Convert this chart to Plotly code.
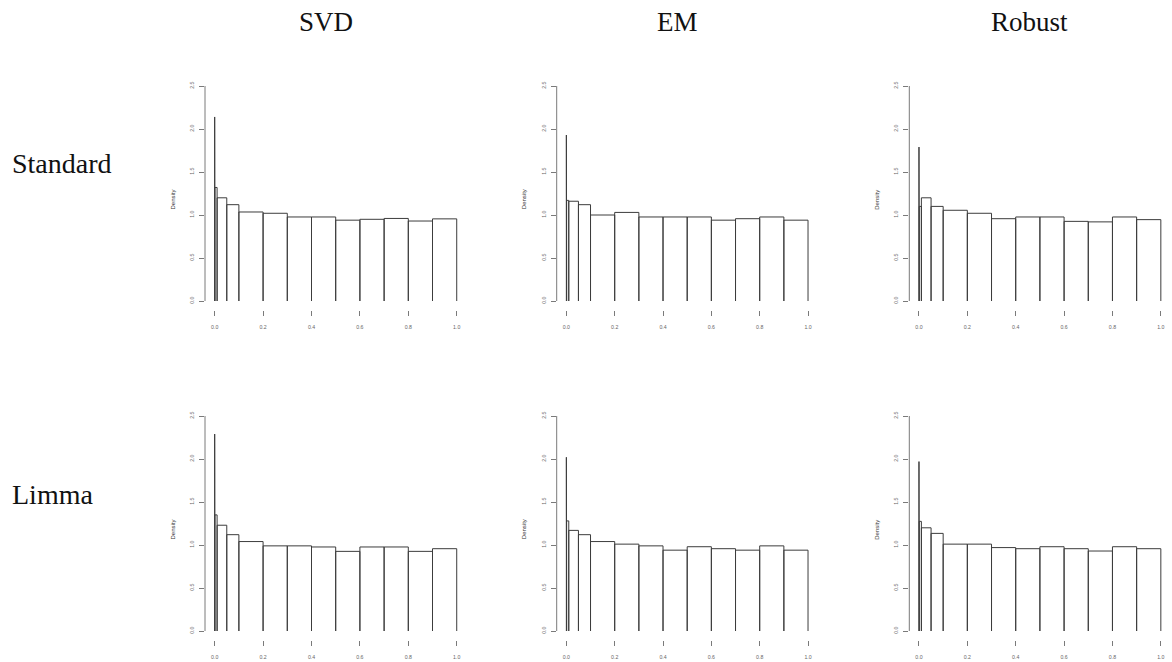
import plotly.graph_objects as go

# ---------------- data ----------------
breaks = [0, 0.001, 0.01, 0.05, 0.1, 0.2, 0.3, 0.4, 0.5, 0.6, 0.7, 0.8, 0.9, 1.0]
methods = ["SVD", "EM", "Robust"]
tests = ["Standard", "Limma"]

x_tick_vals = [0, 0.2, 0.4, 0.6, 0.8, 1.0]
x_tick_text = ["0.0", "0.2", "0.4", "0.6", "0.8", "1.0"]
y_tick_vals = [0, 0.5, 1.0, 1.5, 2.0, 2.5]
y_tick_text = ["0.0", "0.5", "1.0", "1.5", "2.0", "2.5"]

standard_svd = [2.14, 1.32, 1.20, 1.12, 1.035, 1.02, 0.977, 0.977, 0.94, 0.95, 0.96, 0.93, 0.955]
standard_em = [1.93, 1.17, 1.16, 1.12, 1.00, 1.03, 0.977, 0.977, 0.977, 0.94, 0.957, 0.977, 0.94]
standard_robust = [1.79, 1.10, 1.20, 1.10, 1.055, 1.02, 0.957, 0.977, 0.977, 0.926, 0.92, 0.977, 0.946]
limma_svd = [2.29, 1.35, 1.23, 1.12, 1.04, 0.99, 0.99, 0.977, 0.926, 0.977, 0.977, 0.926, 0.957]
limma_em = [2.02, 1.28, 1.17, 1.12, 1.04, 1.01, 0.99, 0.94, 0.98, 0.957, 0.94, 0.99, 0.94]
limma_robust = [1.97, 1.275, 1.20, 1.135, 1.01, 1.01, 0.97, 0.957, 0.98, 0.957, 0.93, 0.98, 0.957]

panels = [
    [standard_svd, standard_em, standard_robust],
    [limma_svd, limma_em, limma_robust],
]

# ---------------- layout geometry (pixels) ----------------
W, H = 1172, 662
col_px = [(205.0, 466.4), (556.7, 817.7), (909.3, 1170.5)]
row_px = [(77.4, 309.6), (407.4, 639.6)]

SERIF = "Liberation Serif, Times New Roman, serif"
SANS = "Liberation Sans, Arial, sans-serif"
BAR_COLOR = "#3c3c3c"
AXIS_COLOR = "#7a7a7a"
TICK_FONT = dict(family=SANS, size=5.2, color="#666666")

fig = go.Figure()
layout_axes = {}
shapes = []
annotations = []

n = 0
for r, test in enumerate(tests):
    for c, method in enumerate(methods):
        n += 1
        dens = panels[r][c]
        xs, ys = [], []
        for i, h in enumerate(dens):
            left, right = breaks[i], breaks[i + 1]
            xs += [left, left, right, right, None]
            ys += [0, h, h, 0, None]
        xa = "x" if n == 1 else f"x{n}"
        ya = "y" if n == 1 else f"y{n}"
        fig.add_trace(go.Scatter(
            x=xs, y=ys, mode="lines", xaxis=xa, yaxis=ya,
            line=dict(color=BAR_COLOR, width=1),
            hoverinfo="skip", showlegend=False,
        ))
        x0p, x1p = col_px[c]
        y0p, y1p = row_px[r]
        xkey = "xaxis" if n == 1 else f"xaxis{n}"
        ykey = "yaxis" if n == 1 else f"yaxis{n}"
        layout_axes[xkey] = dict(
            domain=[x0p / W, x1p / W], range=[-0.04, 1.04], anchor=ya,
            showgrid=False, zeroline=False, showline=False,
            ticks="outside", ticklen=5, tickwidth=1, tickcolor=AXIS_COLOR,
            tickvals=x_tick_vals, ticktext=x_tick_text, tickfont=TICK_FONT,
            ticklabelstandoff=7, fixedrange=True,
        )
        layout_axes[ykey] = dict(
            domain=[1 - y1p / H, 1 - y0p / H], range=[-0.1, 2.6], anchor=xa,
            showgrid=False, zeroline=False, showline=False,
            ticks="outside", ticklen=5, tickwidth=1, tickcolor=AXIS_COLOR,
            tickvals=y_tick_vals, ticktext=y_tick_text, tickfont=TICK_FONT,
            tickangle=-90, ticklabelstandoff=3, fixedrange=True,
        )
        # R-style y axis line spanning the tick range only
        shapes.append(dict(
            type="line", xref=f"{xa} domain", yref=ya,
            x0=0, x1=0, y0=y_tick_vals[0], y1=y_tick_vals[-1],
            line=dict(color=AXIS_COLOR, width=1),
        ))
        # y axis title
        annotations.append(dict(
            text="Density", textangle=-90, showarrow=False,
            xref="paper", yref="paper",
            x=(x0p - 33) / W, y=1 - ((y0p + y1p) / 2 + 6) / H,
            xanchor="center", yanchor="middle",
            font=dict(family=SANS, size=6, color="#333333"),
        ))

# column titles
for c, method in enumerate(methods):
    x0p, x1p = col_px[c]
    annotations.append(dict(
        text=method, showarrow=False, xref="paper", yref="paper",
        x=((x0p + x1p) / 2 - 10) / W, y=1 - 22 / H,
        xanchor="center", yanchor="middle",
        font=dict(family=SERIF, size=27, color="#111111"),
    ))

# row labels
row_label_y = [164, 494]
for r, test in enumerate(tests):
    annotations.append(dict(
        text=test, showarrow=False, xref="paper", yref="paper",
        x=10 / W, y=1 - row_label_y[r] / H,
        xanchor="left", yanchor="middle",
        font=dict(family=SERIF, size=28, color="#111111"),
    ))

fig.update_layout(
    width=W, height=H,
    margin=dict(l=0, r=0, t=0, b=0),
    paper_bgcolor="white", plot_bgcolor="white",
    showlegend=False,
    shapes=shapes, annotations=annotations,
    **layout_axes,
)

fig.write_html(
    "out.html",
    config={"displayModeBar": False},
    post_script="document.body.style.margin='0';document.body.style.padding='0';",
)
